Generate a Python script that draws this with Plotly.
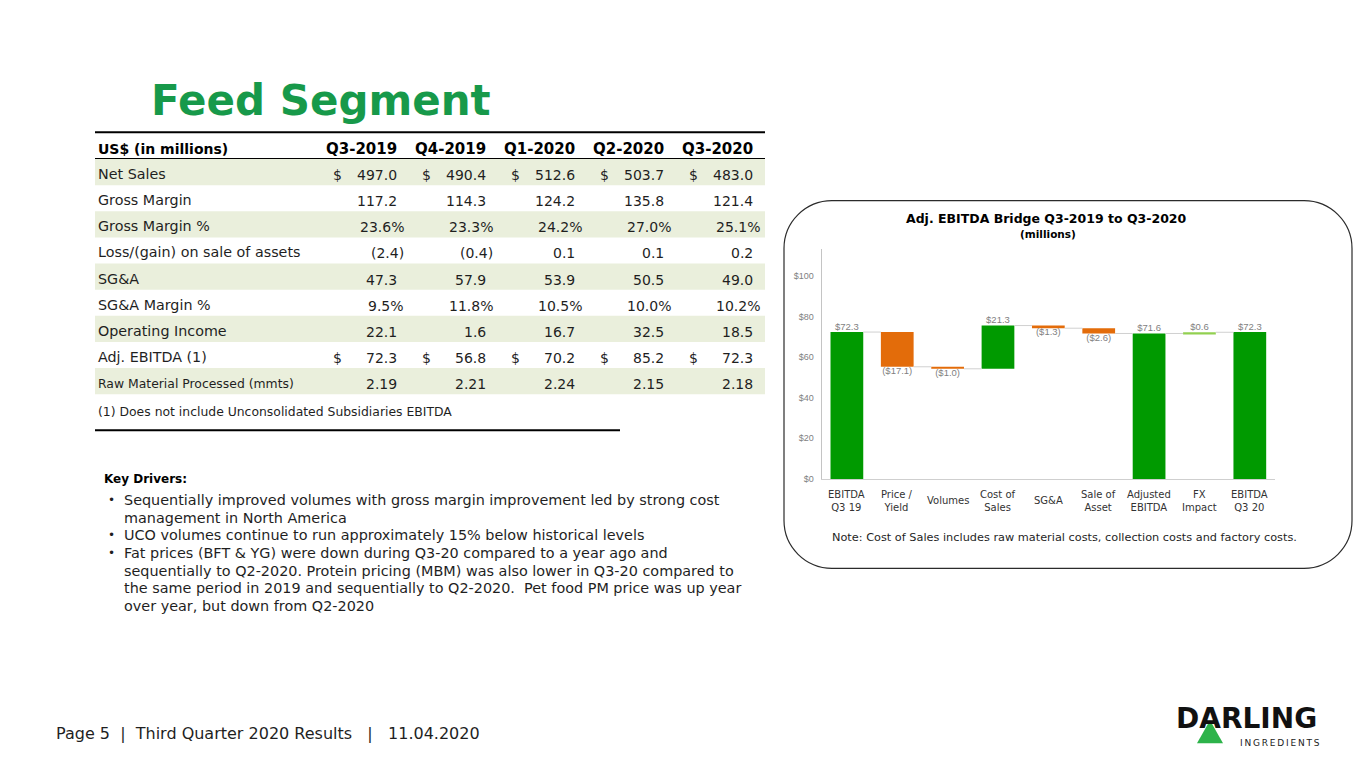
import plotly.graph_objects as go

# page is rendered with an 8px body margin, so the figure is 8px smaller and shifted
OFF = 8
W, H = 1365 - OFF, 768 - OFF

# ---------------- data ----------------
title_text = "Feed Segment"
quarters = ["Q3-2019", "Q4-2019", "Q1-2020", "Q2-2020", "Q3-2020"]
row_labels = ["Net Sales", "Gross Margin", "Gross Margin %", "Loss/(gain) on sale of assets",
              "SG&A", "SG&A Margin %", "Operating Income", "Adj. EBITDA (1)",
              "Raw Material Processed (mmts)"]
net_sales = [497.0, 490.4, 512.6, 503.7, 483.0]
gross_margin = [117.2, 114.3, 124.2, 135.8, 121.4]
gross_margin_pct = [23.6, 23.3, 24.2, 27.0, 25.1]
loss_gain_assets = [-2.4, -0.4, 0.1, 0.1, 0.2]
sga = [47.3, 57.9, 53.9, 50.5, 49.0]
sga_margin_pct = [9.5, 11.8, 10.5, 10.0, 10.2]
operating_income = [22.1, 1.6, 16.7, 32.5, 18.5]
adj_ebitda = [72.3, 56.8, 70.2, 85.2, 72.3]
raw_material = [2.19, 2.21, 2.24, 2.15, 2.18]
footnote = "(1) Does not include Unconsolidated Subsidiaries EBITDA"

bridge_categories = ["EBITDA<br>Q3 19", "Price /<br>Yield", "Volumes", "Cost of<br>Sales", "SG&A",
                     "Sale of<br>Asset", "Adjusted<br>EBITDA", "FX<br>Impact", "EBITDA<br>Q3 20"]
bridge_values = [72.3, -17.1, -1.0, 21.3, -1.3, -2.6, 71.6, 0.6, 72.3]
bridge_measures = ["absolute", "relative", "relative", "relative", "relative", "relative",
                   "total", "relative", "total"]
y_tick_values = [0, 20, 40, 60, 80, 100]
y_tick_labels = ["$0", "$20", "$40", "$60", "$80", "$100"]
chart_title = "Adj. EBITDA Bridge Q3-2019 to Q3-2020"
chart_subtitle = "(millions)"
chart_note = "Note: Cost of Sales includes raw material costs, collection costs and factory costs."

drivers_title = "Key Drivers:"
driver_lines = [
    ("•", "Sequentially improved volumes with gross margin improvement led by strong cost"),
    ("", "management in North America"),
    ("•", "UCO volumes continue to run approximately 15% below historical levels"),
    ("•", "Fat prices (BFT & YG) were down during Q3-20 compared to a year ago and"),
    ("", "sequentially to Q2-2020. Protein pricing (MBM) was also lower in Q3-20 compared to"),
    ("", "the same period in 2019 and sequentially to Q2-2020.  Pet food PM price was up year"),
    ("", "over year, but down from Q2-2020"),
]
NB = "\u00a0"
footer_text = f"Page 5{NB*2}|{NB*2}Third Quarter 2020 Results{NB*3}|{NB*3}11.04.2020"

# ---------------- styles ----------------
GREEN_TITLE = "#17994A"
BAR_GREEN = "#009A00"
BAR_ORANGE = "#E36C0A"
BAR_LIGHT = "#92D050"
SHADE = "#EAEFDC"
TXT = "#1F1F1F"
FONT = "DejaVu Sans"


def px(x):
    return (x - OFF) / W


def py(y):
    return 1 - (y - OFF) / H


annotations = []
shapes = []


def ann(text, x, y, size, color=TXT, bold=False, xanchor="left", yanchor="middle",
        family=FONT):
    if bold:
        text = "<b>" + text + "</b>"
    annotations.append(dict(
        text=text, x=px(x), y=py(y), xref="paper", yref="paper", xanchor=xanchor,
        yanchor=yanchor, showarrow=False, font=dict(family=family, size=size, color=color),
        borderpad=0))


def hline(x0, x1, y, width=1, color="black"):
    shapes.append(dict(type="line", xref="paper", yref="paper", x0=px(x0), x1=px(x1),
                       y0=py(y), y1=py(y), line=dict(color=color, width=width)))


# ---------------- title ----------------
ann(title_text, 150, 101, 42, GREEN_TITLE, bold=True)

# ---------------- table ----------------
TL, TR = 95, 765
hline(TL, TR, 133, 2)
hline(TL, TR, 159.5, 1)
row_top0, row_h = 160, 26.3
for i in range(len(row_labels)):
    if i % 2 == 0:
        shapes.append(dict(type="rect", xref="paper", yref="paper", x0=px(TL), x1=px(TR),
                           y0=py(row_top0 + i * row_h), y1=py(row_top0 + (i + 1) * row_h),
                           fillcolor=SHADE, line=dict(width=0), layer="below"))

ann("US$ (in millions)", 97, 150, 14, "black", bold=True)
col_right = [398, 487, 576, 665, 754]
for q, r in zip(quarters, col_right):
    ann(q, r, 150, 15, "black", bold=True, xanchor="right")


def fmt_num(v, dec=1):
    s = f"{abs(v):.{dec}f}"
    return f"({s})" if v < 0 else s


table_rows = [
    (net_sales, "dollar"), (gross_margin, "num"), (gross_margin_pct, "pct"),
    (loss_gain_assets, "num"), (sga, "num"), (sga_margin_pct, "pct"),
    (operating_income, "num"), (adj_ebitda, "dollar"), (raw_material, "num2"),
]
HANG = 7
for i, (label, (vals, kind)) in enumerate(zip(row_labels, table_rows)):
    yc = row_top0 + i * row_h + row_h / 2 + 3
    ann(label, 97, yc - 1, 12.4 if i == 8 else 14.3, TXT)
    for v, r in zip(vals, col_right):
        if kind == "pct":
            ann(f"{v:.1f}%", r + HANG, yc, 14, TXT, xanchor="right")
        elif kind == "num2":
            ann(f"{v:.2f}", r, yc, 14, TXT, xanchor="right")
        else:
            s = fmt_num(v)
            ann(s, r + (HANG if v < 0 else 0), yc, 14, TXT, xanchor="right")
            if kind == "dollar":
                ann("$", r - 66, yc, 14, TXT)

ann(footnote, 97, 414, 12.4, TXT)
hline(TL, 620, 433, 2)

# ---------------- key drivers ----------------
ann(drivers_title, 103, 482, 12, "black", bold=True)
line_y0, line_dy = 503.5, 17.7
for k, (bullet, txt) in enumerate(driver_lines):
    yk = line_y0 + k * line_dy
    if bullet:
        ann(bullet, 107, yk, 12, TXT)
    ann(txt, 123, yk, 14.4, TXT)

# ---------------- footer & logo ----------------
ann(footer_text, 55, 738, 16, TXT)
ann("DARLING", 1175, 723.5, 28, "#111111", bold=True)
shapes.append(dict(type="path", xref="paper", yref="paper",
                   path=f"M {px(1210)} {py(725)} L {px(1197)} {py(748)} L {px(1223)} {py(748)} Z",
                   fillcolor="#2DB34A", line=dict(width=0)))
ann("\u2009".join("INGREDIENTS"), 1321, 748, 9, "#222222", xanchor="right")

# ---------------- rounded box ----------------
bx0, bx1, by0, by1, rad = 784, 1352, 202, 572, 48
kk = 0.5523 * rad


def P(x, y):
    return f"{px(x)},{py(y)}"


box_path = (
    f"M {P(bx0 + rad, by0)} L {P(bx1 - rad, by0)} "
    f"C {P(bx1 - rad + kk, by0)} {P(bx1, by0 + rad - kk)} {P(bx1, by0 + rad)} "
    f"L {P(bx1, by1 - rad)} "
    f"C {P(bx1, by1 - rad + kk)} {P(bx1 - rad + kk, by1)} {P(bx1 - rad, by1)} "
    f"L {P(bx0 + rad, by1)} "
    f"C {P(bx0 + rad - kk, by1)} {P(bx0, by1 - rad + kk)} {P(bx0, by1 - rad)} "
    f"L {P(bx0, by0 + rad)} "
    f"C {P(bx0, by0 + rad - kk)} {P(bx0 + rad - kk, by0)} {P(bx0 + rad, by0)} Z"
)
shapes.append(dict(type="path", xref="paper", yref="paper", path=box_path,
                   line=dict(color="#2B2B2B", width=1.2), fillcolor="rgba(0,0,0,0)"))

ann(chart_title, 1046, 220, 12.5, "black", bold=True, xanchor="center")
ann(chart_subtitle, 1048, 235, 10.5, "black", bold=True, xanchor="center")
ann(chart_note, 1298, 541, 11.3, TXT, xanchor="right")

# ---------------- waterfall bars ----------------
bases, heights, colors, ends = [], [], [], []
running = 0.0
for v, m in zip(bridge_values, bridge_measures):
    if m in ("absolute", "total"):
        bases.append(0)
        heights.append(v)
        running = v
        colors.append(BAR_GREEN)
    else:
        bases.append(running if v > 0 else running + v)
        heights.append(abs(v))
        running += v
        colors.append(BAR_ORANGE if v < 0 else (BAR_GREEN if v > 5 else BAR_LIGHT))
    ends.append(running)

xs = list(range(len(bridge_values)))
BW = 0.65
fig = go.Figure()
fig.add_trace(go.Bar(x=xs, y=heights, base=bases, width=BW,
                     marker=dict(color=colors, line=dict(width=0)),
                     hoverinfo="skip", showlegend=False))

# connectors
cx, cy = [], []
for i in range(len(xs) - 1):
    cx += [xs[i] + BW / 2, xs[i + 1] - BW / 2, None]
    cy += [ends[i], ends[i], None]
fig.add_trace(go.Scatter(x=cx, y=cy, mode="lines", line=dict(color="#D0D0D0", width=1),
                         hoverinfo="skip", showlegend=False))

# data labels
lab_txt, lab_y, lab_pos = [], [], []
for v, b, h in zip(bridge_values, bases, heights):
    if v < 0:
        lab_txt.append(f"(${abs(v):.1f})")
        lab_y.append(b)
        lab_pos.append("bottom center")
    else:
        lab_txt.append(f"${v:.1f}")
        lab_y.append(b + h)
        lab_pos.append("top center")
fig.add_trace(go.Scatter(x=xs, y=lab_y, mode="text", text=lab_txt, textposition=lab_pos,
                         textfont=dict(family="Liberation Sans", size=9.5, color="#7F7F7F"),
                         hoverinfo="skip", showlegend=False, cliponaxis=False))

for x, c in zip(xs, bridge_categories):
    annotations.append(dict(text=c, x=x, y=py(504), xref="x", yref="paper", xanchor="center",
                            yanchor="middle", showarrow=False, borderpad=0,
                            font=dict(family=FONT, size=10, color="#333333")))

fig.update_layout(
    width=W, height=H, margin=dict(l=0, r=0, t=0, b=0),
    paper_bgcolor="white", plot_bgcolor="rgba(0,0,0,0)",
    xaxis=dict(domain=[px(821.7), px(1275)], range=[-0.5, 8.5], showgrid=False, zeroline=False,
               showline=True, linecolor="#CFCFCF", linewidth=1.2, showticklabels=False, ticks="",
               fixedrange=True),
    yaxis=dict(domain=[py(482), py(251)], range=[0, 113], showgrid=False, zeroline=False,
               showline=True, linecolor="#C4C4C4", linewidth=1.2, tickvals=y_tick_values,
               ticktext=y_tick_labels, ticks="", ticklabelstandoff=5,
               tickfont=dict(family="Liberation Sans", size=9, color="#7F7F7F"), fixedrange=True),
    shapes=shapes, annotations=annotations, bargap=0.3,
)

fig.write_html("out.html")
